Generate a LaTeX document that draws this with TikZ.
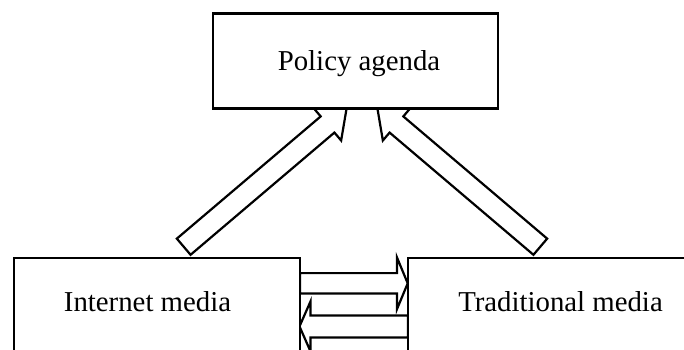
\documentclass[tikz,border=0pt]{standalone}
\usepackage{fontspec}
\setmainfont{Liberation Serif}
\usetikzlibrary{calc,backgrounds}
% tail, tip, shaft half width, head half width, head length
\newcommand{\BlkArrow}[5]{%
  \coordinate (hb) at ($(#2)!#5!(#1)$);
  \draw[blk] ($(#1)!#3!90:(#2)$) -- ($(hb)!#3!90:(#2)$) -- ($(hb)!#4!90:(#2)$) -- (#2)
    -- ($(hb)!#4!-90:(#2)$) -- ($(hb)!#3!-90:(#2)$) -- ($(#1)!#3!-90:(#2)$) -- cycle;
}
\begin{document}
\begin{tikzpicture}[x=1pt,y=-1pt,line width=2.4pt,
  box/.style={draw,fill=white,rectangle,inner sep=0pt,outer sep=0pt,line width=2.4pt},
  lbl/.style={font=\fontsize{28.8}{34}\selectfont,anchor=base,inner sep=0pt},
  blk/.style={draw,fill=white,line join=miter,line width=2.2pt}]
\useasboundingbox (0,0) rectangle (684,349);
\clip (0,0) rectangle (684,349);
\node[box,minimum width=285.3pt,minimum height=95pt] (pa) at (355.5,60.8) {};
\node[lbl] (pat) at (359,70.7) {Policy agenda};
\node[box,minimum width=286pt,minimum height=130pt] (im) at (157,322.7) {};
\node[lbl] (imt) at (147.5,311.7) {Internet media};
\node[box,minimum width=300pt,minimum height=130pt] (td) at (558,322.7) {};
\node[lbl] (tdt) at (560.5,311.7) {Traditional media};
\begin{scope}[on background layer]
  \coordinate (h1s) at (300,283.3); \coordinate (h1t) at (407.7,283.3);
  \BlkArrow{h1s}{h1t}{10.2pt}{25.8pt}{10.7pt}
  \coordinate (h2s) at (408,326.4); \coordinate (h2t) at (299.5,326.4);
  \BlkArrow{h2s}{h2t}{11pt}{25pt}{11pt}
  \coordinate (d1s) at (183.7,246.7); \coordinate (d1t) at (346.6,108.3);
  \BlkArrow{d1s}{d1t}{10.6pt}{21pt}{25pt}
  \coordinate (d2s) at (540.3,246.7); \coordinate (d2t) at (377.4,108.3);
  \BlkArrow{d2s}{d2t}{10.6pt}{21pt}{25pt}
\end{scope}
\end{tikzpicture}
\end{document}
